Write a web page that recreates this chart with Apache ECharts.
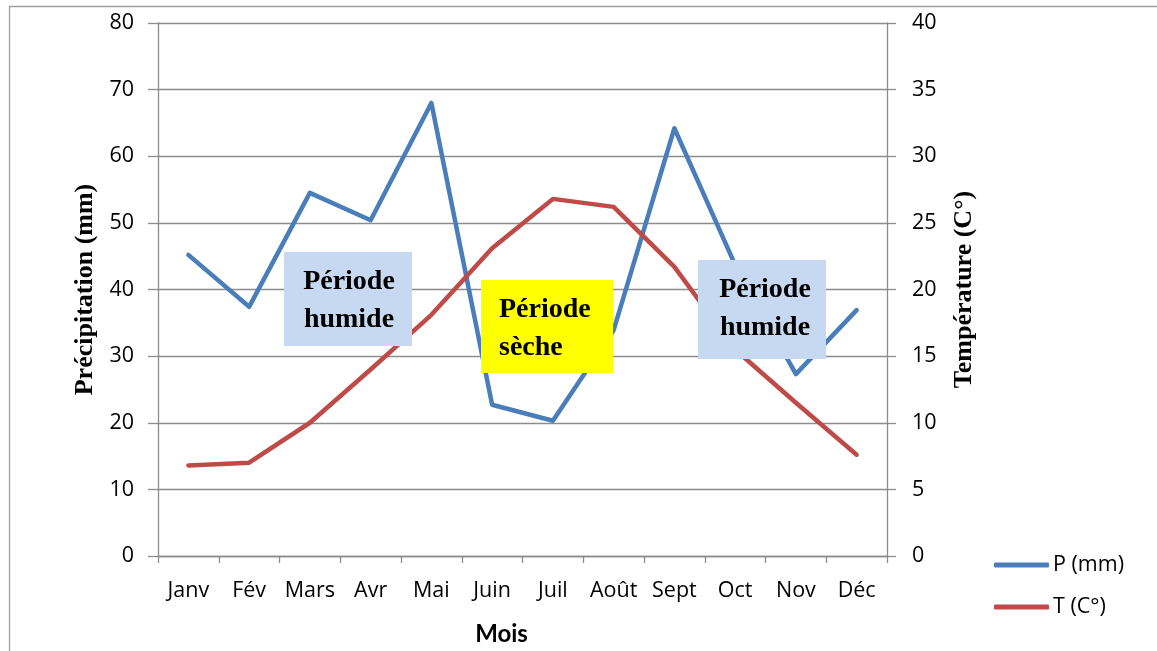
<!DOCTYPE html>
<html>
<head>
<meta charset="utf-8">
<script src="https://cdn.jsdelivr.net/npm/echarts@6/dist/echarts.min.js"></script>
<style>
  html, body { margin: 0; padding: 0; background: #fff; }
  #chart { width: 1157px; height: 651px; }
</style>
</head>
<body>
<div id="chart"></div>
<script>
  // données
  let mois = ['Janv', 'Fév', 'Mars', 'Avr', 'Mai', 'Juin', 'Juil', 'Août', 'Sept', 'Oct', 'Nov', 'Déc'];
  let precipitation = [45.2, 37.4, 54.5, 50.4, 68.0, 22.7, 20.3, 33.9, 64.2, 43.7, 27.3, 36.9];
  let temperature = [6.8, 7.0, 10.0, 14.0, 18.1, 23.1, 26.8, 26.2, 21.7, 15.5, 11.5, 7.6];
  let ticksP = [0, 10, 20, 30, 40, 50, 60, 70, 80];
  let ticksT = [0, 5, 10, 15, 20, 25, 30, 35, 40];

  let gris = '#8c8c8c';
  let labelFont = {fontFamily: 'Open Sans', fontSize: 21.5, color: '#000'};
  let titreFont = {fontFamily: 'Liberation Serif', fontSize: 26, fontWeight: 'bold', color: '#000'};
  let boxFont = 'bold 28px "Liberation Serif"';

  let chart = echarts.init(document.getElementById('chart'));

  let options = {
    backgroundColor: '#ffffff',
    animation: false,
    grid: {
      left: 158,
      right: 270,
      top: 23,
      bottom: 95
    },
    legend: {
      orient: 'vertical',
      left: 989,
      top: 549,
      icon: 'roundRect',
      itemWidth: 55,
      itemHeight: 5,
      itemGap: 20,
      textStyle: {fontFamily: 'Open Sans', fontSize: 21.5, color: '#000', padding: [0, 0, 0, -1]},
      data: ['P (mm)', 'T (C°)']
    },
    xAxis: [{
      type: 'category',
      boundaryGap: true,
      data: mois,
      name: 'Mois',
      nameLocation: 'middle',
      nameGap: 66,
      nameTextStyle: {fontFamily: 'Lato', fontSize: 24, fontWeight: 'bold', color: '#000', padding: [0, 42, 0, 0]},
      axisLine: {lineStyle: {color: gris, width: 1.3}},
      axisTick: {show: true, length: 7, lineStyle: {color: gris, width: 1.3}},
      axisLabel: Object.assign({margin: 24, interval: 0}, labelFont),
      splitLine: {show: false}
    }],
    yAxis: [
      {
        type: 'value',
        min: ticksP[0],
        max: ticksP[ticksP.length - 1],
        interval: 10,
        name: 'Précipitation (mm)',
        nameLocation: 'middle',
        nameGap: 60,
        nameTextStyle: titreFont,
        axisLine: {show: true, lineStyle: {color: gris, width: 1.3}},
        axisTick: {show: true, length: 10, lineStyle: {color: gris, width: 1.3}},
        axisLabel: Object.assign({margin: 24}, labelFont),
        splitLine: {show: true, lineStyle: {color: gris, width: 1.3}}
      },
      {
        type: 'value',
        position: 'right',
        min: ticksT[0],
        max: ticksT[ticksT.length - 1],
        interval: 5,
        name: 'Température (C°)',
        nameLocation: 'middle',
        nameGap: 64,
        nameTextStyle: titreFont,
        axisLine: {show: true, lineStyle: {color: gris, width: 1.3}},
        axisTick: {show: true, length: 9, lineStyle: {color: gris, width: 1.3}},
        axisLabel: Object.assign({margin: 25}, labelFont),
        splitLine: {show: false}
      }
    ],
    series: [
      {
        name: 'P (mm)',
        type: 'line',
        yAxisIndex: 0,
        data: precipitation,
        showSymbol: false,
        symbol: 'none',
        color: '#4a7ebb',
        lineStyle: {width: 4.5, color: '#4a7ebb', cap: 'round', join: 'round'}
      },
      {
        name: 'T (C°)',
        type: 'line',
        yAxisIndex: 1,
        data: temperature,
        showSymbol: false,
        symbol: 'none',
        color: '#be4b48',
        lineStyle: {width: 4.5, color: '#be4b48', cap: 'round', join: 'round'}
      }
    ],
    graphic: [
      // cadre du graphique
      {type: 'rect', shape: {x: 9.5, y: 6.5, width: 1300, height: 800}, style: {fill: 'none', stroke: '#a0a0a0', lineWidth: 1.3}, z: 0, silent: true},
      // zones de périodes
      {type: 'rect', shape: {x: 284, y: 252, width: 128, height: 94}, style: {fill: '#c6d9f1'}, z: 100},
      {type: 'text', x: 349, y: 301, style: {text: 'Période\nhumide', font: boxFont, fill: '#000', align: 'center', verticalAlign: 'middle', lineHeight: 38}, z: 101},
      {type: 'rect', shape: {x: 481, y: 280, width: 132, height: 93}, style: {fill: '#ffff00'}, z: 100},
      {type: 'text', x: 499, y: 329, style: {text: 'Période\nsèche', font: boxFont, fill: '#000', align: 'left', verticalAlign: 'middle', lineHeight: 38}, z: 101},
      {type: 'rect', shape: {x: 698, y: 260, width: 128, height: 99}, style: {fill: '#c6d9f1'}, z: 100},
      {type: 'text', x: 765, y: 309, style: {text: 'Période\nhumide', font: boxFont, fill: '#000', align: 'center', verticalAlign: 'middle', lineHeight: 38}, z: 101}
    ]
  };

  chart.setOption(options);
</script>
</body>
</html>
